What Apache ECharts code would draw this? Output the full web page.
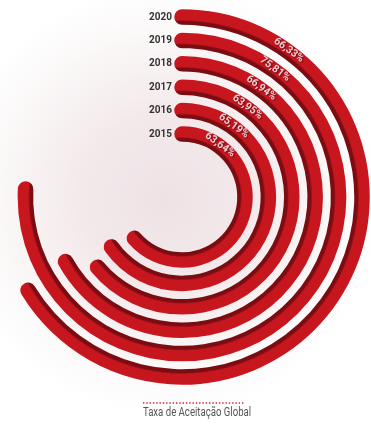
<!DOCTYPE html>
<html>
<head>
<meta charset="utf-8">
<script src="https://cdn.jsdelivr.net/npm/echarts@6/dist/echarts.min.js"></script>
<style>
  html, body { margin: 0; padding: 0; background: #fff; }
  #chart { width: 371px; height: 427px; }
</style>
</head>
<body>
<div id="chart"></div>
<script>
// Annual global acceptance rate, innermost ring = oldest year
const years = ['2015', '2016', '2017', '2018', '2019', '2020'];
const acceptance = [63.64, 65.19, 63.95, 66.94, 75.81, 66.33];
const caption = 'Taxa de Aceitação Global';

// Ring geometry
const CX = 182, CY = 197;
const R0 = 51.3, R1 = 191.7;
const BAND = (R1 - R0) / years.length;
const BAR_W = 15.5;
const LABEL_AT = 10; // position of the value labels along each ring (percent of the circle)

const RED = '#c8161f';
const DARK = '#7a0c12';
const FONT = "Roboto, 'Liberation Sans', sans-serif";

// One gradient keyed on distance from the centre gives every ring a darker inner edge
const stops = [];
years.forEach((_, i) => {
  const rc = R0 + BAND * (i + 0.5);
  const inner = rc - BAR_W / 2;
  const outer = rc + BAR_W / 2;
  stops.push({ offset: (inner - 0.5) / R1, color: DARK });
  stops.push({ offset: (inner + 3.2) / R1, color: DARK });
  stops.push({ offset: (inner + 5) / R1, color: RED });
  stops.push({ offset: Math.min(1, (outer + 0.5) / R1), color: RED });
});
const ringFill = new echarts.graphic.RadialGradient(CX, CY, R1, stops, true);

const fmt = v => v.toFixed(2).replace('.', ',') + '%';
const labelAngle = LABEL_AT / 100 * 360;

const chart = echarts.init(document.getElementById('chart'), null, { renderer: 'canvas' });
chart.setOption({
  animation: false,
  graphic: [
    {
      type: 'rect', z: -10, silent: true,
      shape: { x: 0, y: 0, width: 371, height: 427 },
      style: {
        fill: new echarts.graphic.RadialGradient(165, 200, 215, [
          { offset: 0, color: '#eee2e5' },
          { offset: 0.4, color: '#f3e9eb' },
          { offset: 0.78, color: '#fbf8f8' },
          { offset: 1, color: '#ffffff' }
        ], true)
      }
    },
    {
      type: 'line', silent: true,
      shape: { x1: 143, y1: 403, x2: 244, y2: 403 },
      style: { stroke: '#d3252c', lineWidth: 1.4, lineDash: [1.4, 1.9] }
    },
    {
      type: 'text', silent: true,
      x: 197, y: 413, scaleX: 0.8,
      style: {
        text: caption, align: 'center', verticalAlign: 'middle',
        fill: '#555555', font: "12px " + FONT
      }
    }
  ],
  polar: { center: [CX, CY], radius: [R0, R1] },
  angleAxis: {
    type: 'value', min: 0, max: 100, startAngle: 90, clockwise: true,
    show: false
  },
  radiusAxis: {
    type: 'category', data: years,
    axisLine: { show: false }, axisTick: { show: false },
    splitLine: { show: false },
    axisLabel: {
      interval: 0, margin: 10, color: '#333333', fontWeight: 'bold',
      fontSize: 10, fontFamily: FONT
    }
  },
  series: [
    {
      type: 'bar', coordinateSystem: 'polar',
      data: acceptance,
      barWidth: BAR_W, roundCap: true,
      itemStyle: { color: ringFill },
      z: 2
    },
    {
      type: 'scatter', coordinateSystem: 'polar',
      symbolSize: 0, z: 5, silent: true,
      data: acceptance.map((v, i) => ({ value: [i, LABEL_AT], text: fmt(v) })),
      label: {
        show: true, position: 'inside', rotate: -labelAngle,
        offset: [0, -1.5],
        formatter: p => p.data.text,
        color: '#ffffff', fontWeight: 'bold', fontSize: 10.5,
        fontFamily: FONT,
        textShadowColor: 'rgba(60, 0, 5, 0.85)', textShadowBlur: 1.5,
        textShadowOffsetX: 1, textShadowOffsetY: 1
      }
    }
  ]
});
</script>
</body>
</html>
